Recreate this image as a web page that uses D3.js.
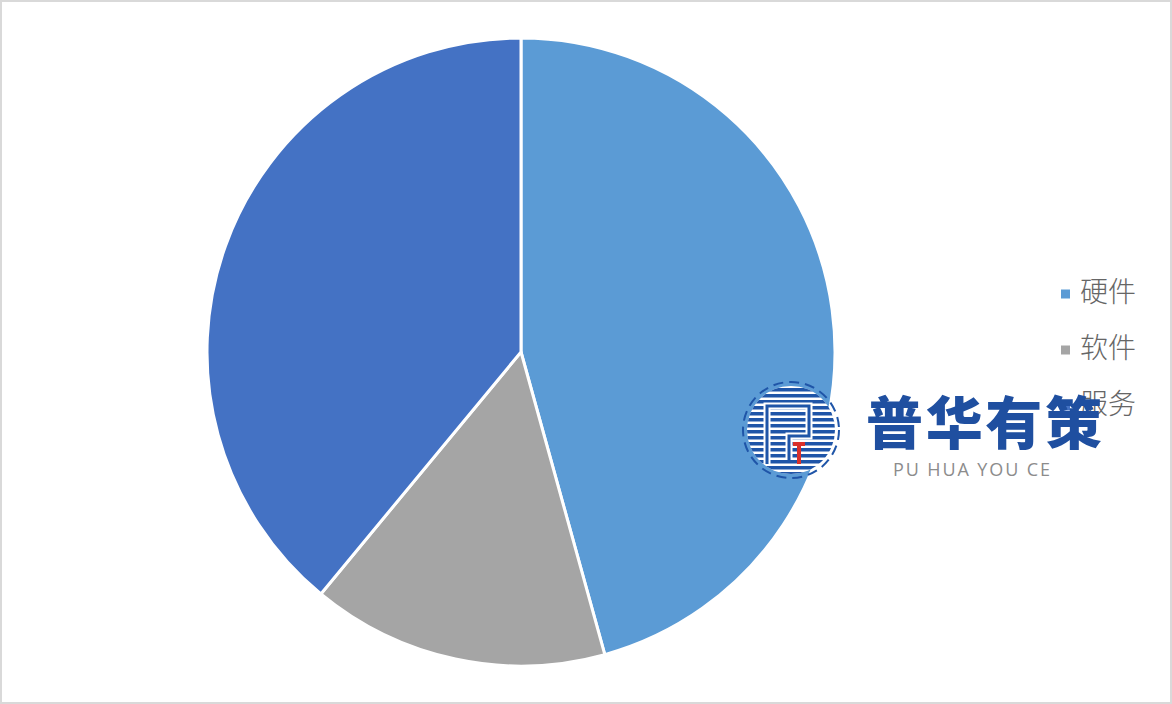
<!DOCTYPE html>
<html><head><meta charset="utf-8">
<script src="https://cdn.jsdelivr.net/npm/d3@7/dist/d3.min.js"></script>
<style>html,body{margin:0;padding:0;background:#fff;}svg{display:block;}</style>
</head><body>
<svg id="chart" width="1172" height="704"></svg>
<script>
const categories = ["硬件", "软件", "服务"];
const values = [45.7, 15.3, 39.0];
const colors = ["#5B9BD5", "#A5A5A5", "#4472C4"];

const svg = d3.select("#chart");
const W = 1172, H = 704;
svg.append("rect").attr("x",1).attr("y",1).attr("width",W-2).attr("height",H-2)
  .attr("fill","#fff").attr("stroke","#d9d9d9").attr("stroke-width",2);

const cx = 521, cy = 352, R = 314;
const pie = d3.pie().sort(null).value(d => d)(values);
const arc = d3.arc().innerRadius(0).outerRadius(R);
const g = svg.append("g").attr("transform", `translate(${cx},${cy})`);
g.selectAll("path").data(pie).join("path")
  .attr("d", arc).attr("fill", (d,i) => colors[i])
  .attr("stroke", "#fff").attr("stroke-width", 3).attr("stroke-linejoin","round");

// legend
const lg = svg.append("g");
categories.forEach((c,i) => {
  const y = 294 + i*56;
  lg.append("rect").attr("x",1061).attr("y",y-4.5).attr("width",9).attr("height",9).attr("fill",colors[i]);
  lg.append("text").attr("x",1080).attr("y",y-2).attr("dy","0.36em")
    .attr("font-family","'Noto Sans CJK SC', sans-serif").attr("font-size",28).attr("font-weight",300)
    .attr("fill","#666666").text(c);
});

// watermark
const wm = svg.append("g");
const lx = 791, ly = 430, lr = 48;
wm.append("clipPath").attr("id","lc").append("circle").attr("cx",lx).attr("cy",ly).attr("r",lr-4);
wm.append("circle").attr("cx",lx).attr("cy",ly).attr("r",lr-4).attr("fill","#fff");
const sg = wm.append("g").attr("clip-path","url(#lc)");
for (let y = ly-lr; y < ly+lr; y += 6) {
  sg.append("rect").attr("x",lx-lr).attr("y",y).attr("width",lr*2).attr("height",3.5).attr("fill","#1f55a8");
}
wm.append("circle").attr("cx",lx).attr("cy",ly).attr("r",lr).attr("fill","none")
  .attr("stroke","#1f55a8").attr("stroke-width",2).attr("stroke-dasharray","10 6");
const pth = `M${lx-24},${ly+34} L${lx-24},${ly-24} L${lx+18},${ly-24} L${lx+18},${ly+6} L${lx-2},${ly+6} L${lx-2},${ly+30}`;
wm.append("path").attr("d",pth).attr("fill","none").attr("stroke","#fff").attr("stroke-width",7);
wm.append("path").attr("d",pth).attr("fill","none").attr("stroke","#1f55a8").attr("stroke-width",3);
wm.append("path").attr("d",`M${lx+2},${ly+14} L${lx+14},${ly+14} M${lx+8},${ly+14} L${lx+8},${ly+34}`)
  .attr("fill","none").attr("stroke","#d9312b").attr("stroke-width",4);
wm.append("text").attr("x",866).attr("y",423).attr("dy","0.36em")
  .attr("font-family","'Noto Sans CJK SC', sans-serif").attr("font-weight",900)
  .attr("font-size",57).attr("fill","#1f4fa0").attr("textLength",236).text("普华有策");
wm.append("text").attr("x",893).attr("y",470).attr("dy","0.36em")
  .attr("font-family","'Open Sans', sans-serif").attr("font-size",18)
  .attr("fill","#8c8c8c").attr("textLength",157).text("PU HUA YOU CE");
</script>
</body></html>
